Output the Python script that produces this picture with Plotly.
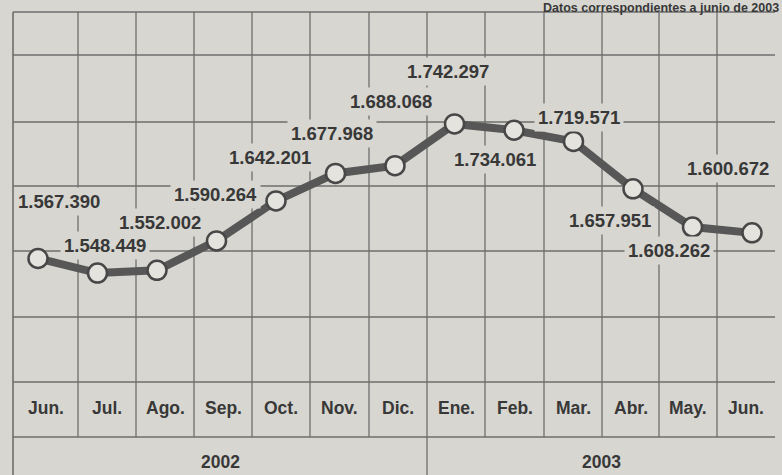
import plotly.graph_objects as go

# Monthly series, June 2002 - June 2003
months = ["Jun.", "Jul.", "Ago.", "Sep.", "Oct.", "Nov.", "Dic.",
          "Ene.", "Feb.", "Mar.", "Abr.", "May.", "Jun."]
values = [1567390, 1548449, 1552002, 1590264, 1642201, 1677968, 1688068,
          1742297, 1734061, 1719571, 1657951, 1608262, 1600672]
years = ["2002", "2003"]
note = "Datos correspondientes a junio de 2003"

W, H = 782, 475
BG = "#d7d6d0"
INK = "#383838"
GRID = "#6e6e6e"
FONT = "Liberation Sans, Arial, sans-serif"


def px(x):
    return x / W


def py(y):
    return 1 - y / H


def es_num(v):
    return f"{v:,}".replace(",", ".")


# frame geometry (pixels)
left, right = 13, 775
col_edges = [13, 78, 136, 194, 252, 310, 369, 427, 485, 544, 602, 659, 717, 775]
row_lines = [12, 55, 122, 186, 251, 317, 382, 437]
month_y, year_y = 408, 462
year_split = 427

# label centres for each value (pixels)
label_pos = [(59, 202), (105, 245), (160, 223), (216, 195), (270, 158),
             (332, 133), (391, 102), (448, 72), (495, 160), (579, 117),
             (610, 220), (669, 250), (728, 168)]

value_font = dict(family=FONT, size=18.5, color=INK, weight="bold")
axis_font = dict(family=FONT, size=17.5, color=INK, weight="bold")

shapes = []
for y in row_lines:
    shapes.append(dict(type="line", xref="paper", yref="paper",
                       x0=px(left), x1=px(right), y0=py(y), y1=py(y),
                       line=dict(color=GRID, width=1.6), layer="below"))
# left border runs to the bottom
shapes.append(dict(type="line", xref="paper", yref="paper",
                   x0=px(left), x1=px(left), y0=py(row_lines[0]), y1=py(H),
                   line=dict(color=GRID, width=1.6), layer="below"))
for x in col_edges[1:-1]:
    y_end = H if x == year_split else row_lines[-1]
    shapes.append(dict(type="line", xref="paper", yref="paper",
                       x0=px(x), x1=px(x), y0=py(row_lines[0]), y1=py(y_end),
                       line=dict(color=GRID, width=1.3), layer="below"))

annotations = []
for v, (lx, ly) in zip(values, label_pos):
    annotations.append(dict(x=px(lx), y=py(ly), xref="paper", yref="paper",
                            xanchor="center", yanchor="middle",
                            text=es_num(v), showarrow=False, font=value_font,
                            bgcolor=BG, borderpad=3))
for i, m in enumerate(months):
    cx = (col_edges[i] + col_edges[i + 1]) / 2
    annotations.append(dict(x=px(cx), y=py(month_y), xref="paper", yref="paper",
                            xanchor="center", yanchor="middle",
                            text=m, showarrow=False, font=axis_font))
for yr, (a, b) in zip(years, [(left, year_split), (year_split, right)]):
    annotations.append(dict(x=px((a + b) / 2), y=py(year_y), xref="paper", yref="paper",
                            xanchor="center", yanchor="middle",
                            text=yr, showarrow=False, font=axis_font))
annotations.append(dict(x=px(W - 2), y=1.0, xref="paper", yref="paper",
                        xanchor="right", yanchor="top", text=note,
                        showarrow=False, borderpad=0,
                        font=dict(family=FONT, size=12.5, color=INK, weight="bold")))

fig = go.Figure()
fig.add_trace(go.Scatter(
    x=list(range(len(values))), y=values, mode="lines+markers",
    line=dict(color="#575757", width=8),
    marker=dict(size=19, color="#e4e3de", line=dict(color="#474747", width=2.5)),
    hoverinfo="skip", showlegend=False,
))

fig.update_layout(
    width=W, height=H,
    margin=dict(l=0, r=0, t=0, b=0),
    paper_bgcolor=BG, plot_bgcolor=BG,
    xaxis=dict(range=[-0.6387, 12.504], visible=False, fixedrange=True),
    yaxis=dict(range=[1285960, 1903360], visible=False, fixedrange=True),
    shapes=shapes,
    annotations=annotations,
    font=dict(family=FONT, color=INK),
)

fig.write_html("out.html")
